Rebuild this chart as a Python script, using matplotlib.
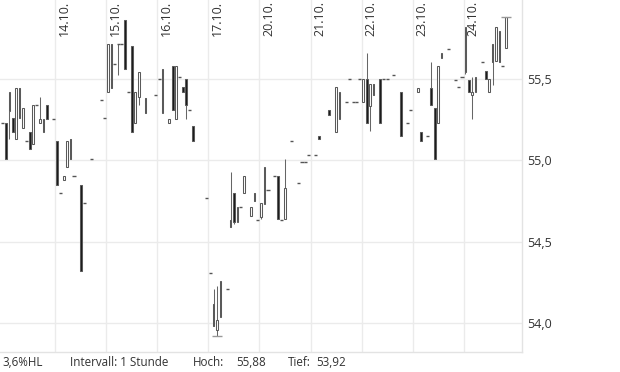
import matplotlib
matplotlib.use("Agg")
import matplotlib.pyplot as plt

plt.rcParams['font.family'] = ['Open Sans', 'DejaVu Sans']

# trading days (15 hourly slots per day, 14.10. starts at slot 0)
day_labels = ["14.10.", "15.10.", "16.10.", "17.10.", "20.10.",
              "21.10.", "22.10.", "23.10.", "24.10."]
day_starts = [0, 15, 30, 45, 60, 75, 90, 105, 120]

# hourly candles: slot index, open, high, low, close
hours = [-16, -15, -14, -13, -12, -11, -10, -9, -8, -7, -6, -5, -4, -3, -1,
         0, 1, 2, 3, 4, 5, 7, 8, 10, 13, 14,
         15, 16, 17, 18, 19, 20, 21, 22, 23, 24, 26, 29,
         30, 31, 33, 34, 35, 36, 37, 38, 39, 40, 44,
         45, 46, 47, 48, 50, 51, 52, 53, 54, 55, 57, 58, 59,
         60, 61, 62, 64, 65, 66, 67, 69, 71, 72, 73, 74,
         76, 77, 80, 82, 83, 85, 86, 87, 88, 89,
         90, 91, 92, 93, 95, 96, 97, 99, 101, 103, 104,
         106, 107, 109, 110, 111, 112, 113, 115, 117, 118, 119,
         120, 121, 122, 123, 125, 126, 127, 128, 129, 130, 131, 132]
opens = [55.23, 55.23, 55.30, 55.26, 55.13, 55.44, 55.20, 55.12, 55.17, 55.10, 55.34, 55.23, 55.17, 55.34, 55.25,
         55.12, 54.80, 54.88, 54.96, 55.13, 54.90, 54.85, 54.74, 55.01, 55.37, 55.26,
         55.42, 55.71, 55.59, 55.71, 55.71, 55.86, 55.42, 55.70, 55.23, 55.39, 55.38, 55.40,
         55.50, 55.29, 55.23, 55.58, 55.25, 55.51, 55.45, 55.50, 55.31, 55.21, 54.77,
         54.31, 54.12, 53.96, 54.04, 54.21, 54.63, 54.80, 54.62, 54.71, 54.80, 54.66, 54.80, 54.63,
         54.65, 54.73, 54.82, 54.90, 54.90, 54.63, 54.64, 55.12, 54.86, 54.99, 54.99, 55.03,
         55.03, 55.15, 55.31, 55.17, 55.25, 55.36, 55.50, 55.36, 55.36, 55.50,
         55.36, 55.50, 55.33, 55.47, 55.50, 55.50, 55.50, 55.52, 55.42, 55.23, 55.31,
         55.42, 55.17, 55.15, 55.44, 55.32, 55.23, 55.63, 55.68, 55.49, 55.45, 55.51,
         55.54, 55.49, 55.40, 55.42, 55.60, 55.55, 55.42, 55.71, 55.61, 55.60, 55.58, 55.69]
highs = [55.23, 55.23, 55.42, 55.26, 55.44, 55.44, 55.32, 55.12, 55.17, 55.34, 55.34, 55.39, 55.25, 55.34, 55.25,
         55.12, 54.80, 54.90, 55.12, 55.13, 54.90, 54.85, 54.74, 55.01, 55.37, 55.26,
         55.71, 55.71, 55.59, 55.71, 55.71, 55.86, 55.42, 55.70, 55.42, 55.54, 55.38, 55.40,
         55.50, 55.56, 55.25, 55.58, 55.58, 55.51, 55.45, 55.50, 55.31, 55.21, 54.77,
         54.31, 54.21, 54.23, 54.26, 54.21, 54.93, 54.80, 54.71, 54.71, 54.90, 54.71, 54.80, 54.63,
         54.74, 54.96, 54.82, 54.90, 54.90, 54.63, 55.01, 55.12, 54.86, 54.99, 54.99, 55.03,
         55.03, 55.15, 55.31, 55.45, 55.42, 55.36, 55.50, 55.36, 55.36, 55.50,
         55.50, 55.66, 55.47, 55.47, 55.50, 55.50, 55.50, 55.52, 55.42, 55.23, 55.31,
         55.44, 55.17, 55.15, 55.60, 55.32, 55.58, 55.66, 55.68, 55.49, 55.45, 55.51,
         55.82, 55.49, 55.51, 55.51, 55.60, 55.55, 55.50, 55.71, 55.82, 55.79, 55.58, 55.88]
lows = [55.23, 55.01, 55.13, 55.17, 55.13, 55.26, 55.20, 55.12, 55.07, 55.10, 55.34, 55.23, 55.17, 55.25, 55.25,
        54.85, 54.80, 54.88, 54.96, 55.01, 54.90, 54.32, 54.74, 55.01, 55.37, 55.26,
        55.42, 55.44, 55.59, 55.52, 55.71, 55.56, 55.42, 55.17, 55.23, 55.34, 55.29, 55.40,
        55.50, 55.29, 55.23, 55.31, 55.25, 55.51, 55.42, 55.25, 55.31, 55.12, 54.77,
        54.31, 53.98, 53.92, 54.04, 54.21, 54.59, 54.61, 54.62, 54.71, 54.80, 54.66, 54.75, 54.63,
        54.64, 54.73, 54.82, 54.90, 54.64, 54.63, 54.64, 55.12, 54.86, 54.99, 54.99, 55.03,
        55.03, 55.13, 55.28, 55.17, 55.25, 55.36, 55.50, 55.36, 55.36, 55.50,
        55.36, 55.23, 55.18, 55.40, 55.23, 55.50, 55.50, 55.52, 55.15, 55.23, 55.31,
        55.42, 55.12, 55.15, 55.34, 55.01, 55.23, 55.63, 55.68, 55.49, 55.45, 55.51,
        55.53, 55.42, 55.25, 55.42, 55.60, 55.50, 55.42, 55.46, 55.61, 55.60, 55.58, 55.69]
closes = [55.23, 55.01, 55.42, 55.17, 55.44, 55.26, 55.32, 55.12, 55.07, 55.34, 55.34, 55.25, 55.25, 55.25, 55.25,
          54.85, 54.80, 54.90, 55.12, 55.01, 54.90, 54.32, 54.74, 55.01, 55.37, 55.26,
          55.71, 55.44, 55.59, 55.71, 55.71, 55.56, 55.42, 55.17, 55.42, 55.54, 55.29, 55.40,
          55.50, 55.56, 55.25, 55.31, 55.58, 55.51, 55.42, 55.34, 55.31, 55.12, 54.77,
          54.31, 53.98, 54.02, 54.26, 54.21, 54.59, 54.62, 54.71, 54.71, 54.90, 54.71, 54.75, 54.63,
          54.74, 54.96, 54.82, 54.90, 54.64, 54.63, 54.83, 55.12, 54.86, 54.99, 54.99, 55.03,
          55.03, 55.13, 55.28, 55.45, 55.42, 55.36, 55.50, 55.36, 55.36, 55.50,
          55.50, 55.23, 55.47, 55.40, 55.23, 55.50, 55.50, 55.52, 55.15, 55.23, 55.31,
          55.44, 55.12, 55.15, 55.34, 55.01, 55.58, 55.66, 55.68, 55.49, 55.45, 55.51,
          55.82, 55.42, 55.42, 55.51, 55.60, 55.50, 55.50, 55.60, 55.82, 55.79, 55.58, 55.88]

y_ticks = [54.0, 54.5, 55.0, 55.5]

def de(v):
    return f"{v:.2f}".replace(".", ",")

hoch = max(highs)
tief = min(lows)
spanne = (hoch - tief) / tief * 100

fig = plt.figure(figsize=(6.2, 3.72), dpi=100)
ax = fig.add_axes([0, 20 / 372, 521.7 / 620, 352 / 372])

edge_gray = "#666666"
for h, o, hi, lo, c in zip(hours, opens, highs, lows, closes):
    x = h + 0.5
    if o == c:
        ax.vlines(x, lo, hi, color=edge_gray, lw=0.75, zorder=2)
        ax.hlines(o, x - 0.45, x + 0.45, color="#555555", lw=1.0, zorder=3)
        continue
    top, bot = max(o, c), min(o, c)
    if hi > top:
        ax.vlines(x, top, hi, color=edge_gray, lw=0.75, zorder=2)
    if lo < bot:
        ax.vlines(x, lo, bot, color=edge_gray, lw=0.75, zorder=2)
    face = "white" if c > o else "#1a1a1a"
    ax.bar(x, top - bot, bottom=bot, width=0.5, color=face,
           edgecolor="#5a5a5a", linewidth=0.75, zorder=3)

# high / low markers
i_hi = highs.index(hoch)
i_lo = lows.index(tief)
ax.hlines(hoch, hours[i_hi] + 0.5 - 1.5, hours[i_hi] + 0.5 + 1.5, color="#999999", lw=1.0, zorder=4)
ax.hlines(tief, hours[i_lo] + 0.5 - 1.5, hours[i_lo] + 0.5 + 1.5, color="#999999", lw=1.0, zorder=4)

ax.set_xlim(-16.25, 137.05)
ax.set_ylim(53.823, 55.983)
ax.set_xticks(day_starts)
ax.set_xticklabels([])
ax.set_yticks(y_ticks)
ax.set_yticklabels([f"{v:.1f}".replace(".", ",") for v in y_ticks])
ax.yaxis.tick_right()
ax.tick_params(axis="both", length=0)
ax.tick_params(axis="y", labelsize=9, labelcolor="#333333", pad=4)
ax.grid(True, color="#ebebeb", lw=1.0, zorder=0)
ax.set_axisbelow(True)
for side in ["top", "left"]:
    ax.spines[side].set_visible(False)
for side in ["right", "bottom"]:
    ax.spines[side].set_color("#e3e3e3")
    ax.spines[side].set_linewidth(1.0)

for d, lab in zip(day_starts, day_labels):
    ax.text(d + 0.8, 55.975, lab, rotation=90, ha="left", va="top",
            fontsize=9, color="#333333")

ty = 9 / 372
fs = 8.4
fig.text(43 / 620, ty, f"{spanne:.1f}".replace(".", ",") + "%HL", ha="right", va="center", fontsize=fs, color="#333333")
fig.text(70 / 620, ty, "Intervall: 1 Stunde", ha="left", va="center", fontsize=fs, color="#333333")
fig.text(193 / 620, ty, "Hoch:", ha="left", va="center", fontsize=fs, color="#333333")
fig.text(236 / 620, ty, de(hoch), ha="left", va="center", fontsize=fs, color="#333333")
fig.text(288 / 620, ty, "Tief:", ha="left", va="center", fontsize=fs, color="#333333")
fig.text(316 / 620, ty, de(tief), ha="left", va="center", fontsize=fs, color="#333333")

fig.savefig("out.png", dpi=100)
